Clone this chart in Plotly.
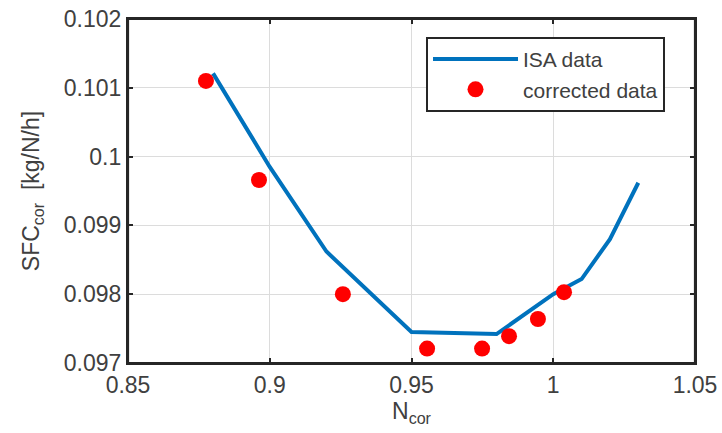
import plotly.graph_objects as go

# ISA data (line)
isa_n = [0.88, 0.90, 0.92, 0.95, 0.98, 1.00, 1.01, 1.02, 1.03]
isa_sfc = [0.10121, 0.09985, 0.09862, 0.09745, 0.09742, 0.09800, 0.09822, 0.09880, 0.09962]

# corrected data (markers)
cor_n = [0.8775, 0.8962, 0.9258, 0.9555, 0.9749, 0.9844, 0.9946, 1.0038]
cor_sfc = [0.10110, 0.09966, 0.09800, 0.09721, 0.09721, 0.09739, 0.09764, 0.09803]

x_ticks = [0.85, 0.9, 0.95, 1.0, 1.05]
x_labels = ["0.85", "0.9", "0.95", "1", "1.05"]
y_ticks = [0.097, 0.098, 0.099, 0.1, 0.101, 0.102]
y_labels = ["0.097", "0.098", "0.099", "0.1", "0.101", "0.102"]

FONT = "Liberation Sans, Arial"
TXT = "#404040"

fig = go.Figure()
fig.add_trace(go.Scatter(x=isa_n, y=isa_sfc, mode="lines", name="ISA data",
                         line=dict(color="#0072BD", width=4)))
fig.add_trace(go.Scatter(x=cor_n, y=cor_sfc, mode="markers", name="corrected data",
                         marker=dict(color="#FF0000", size=16)))

axis_common = dict(showline=True, linecolor="#262626", linewidth=2.2, mirror="allticks",
                   ticks="inside", ticklen=5, tickwidth=1.5, tickcolor="#262626",
                   showgrid=True, gridcolor="#DCDCDC", gridwidth=1, zeroline=False,
                   automargin=False, ticklabeloverflow="allow",
                   tickfont=dict(family=FONT, size=23, color=TXT))

fig.update_xaxes(range=[0.85, 1.05], tickvals=x_ticks, ticktext=x_labels,
                 title=dict(text="N<sub>cor</sub>", standoff=0,
                            font=dict(family=FONT, size=23, color=TXT)),
                 **axis_common)
fig.update_yaxes(range=[0.097, 0.102], tickvals=y_ticks, ticktext=y_labels,
                 title=dict(text="SFC<sub>cor</sub>  [kg/N/h]", standoff=18,
                            font=dict(family=FONT, size=23, color=TXT)),
                 **axis_common)

# axes box outline (frame of the plotting area)
fig.add_shape(type="rect", xref="x domain", yref="y domain", x0=0, x1=1, y0=0, y1=1,
              line=dict(color="#262626", width=2.2), layer="above")

fig.update_layout(
    width=722, height=433,
    margin=dict(l=128, r=27, t=19, b=70),
    plot_bgcolor="white", paper_bgcolor="white",
    showlegend=True,
    legend=dict(x=0.5256, y=0.948, xanchor="left", yanchor="top",
                bgcolor="white", bordercolor="#262626", borderwidth=2,
                font=dict(family=FONT, size=21, color=TXT),
                tracegroupgap=0, itemwidth=85),
)

fig.write_html("out.html", config={"displayModeBar": False},
               post_script="document.body.style.margin='0px';")
